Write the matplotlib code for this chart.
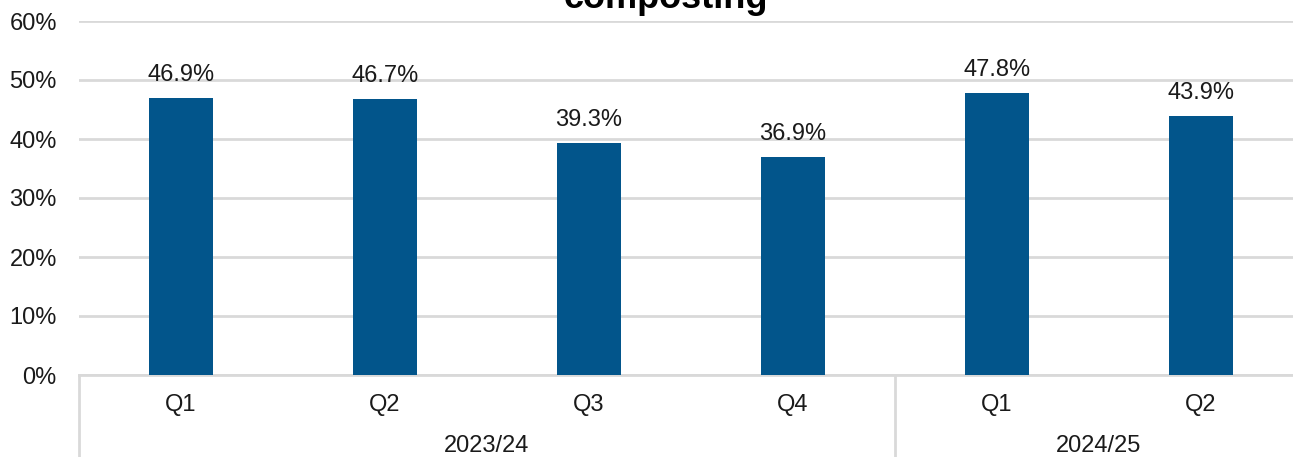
"""Quarterly composting rate bar chart with a two-level category axis."""

import matplotlib

matplotlib.use("Agg")
import matplotlib.pyplot as plt  # noqa: E402
from matplotlib.lines import Line2D  # noqa: E402
from matplotlib.transforms import blended_transform_factory  # noqa: E402

quarters = ["Q1", "Q2", "Q3", "Q4", "Q1", "Q2"]
rates = [46.9, 46.7, 39.3, 36.9, 47.8, 43.9]
years = ["2023/24", "2024/25"]
year_spans = [(0, 3), (4, 5)]  # first and last quarter index of each year

BAR_COLOR = "#02558B"
GRID_COLOR = "#D9D9D9"
W, H = 1293, 457

plt.rcParams["font.family"] = ["Liberation Sans", "DejaVu Sans"]

fig = plt.figure(figsize=(W / 100, H / 100), dpi=100)
# plot area in pixels: left 79, right 1303 (runs past the edge), top 21, bottom 375
ax = fig.add_axes([79 / W, (H - 375) / H, 1224 / W, (375 - 21) / H])

xs = list(range(len(rates)))
bars = ax.bar(xs, rates, width=0.314, color=BAR_COLOR, zorder=3)
for x, v in zip(xs, rates):
    ax.annotate(f"{v:.1f}%", (x, v), xytext=(0, 12), textcoords="offset pixels",
                ha="center", va="bottom", fontsize=17, color="#1a1a1a")

ax.set_xlim(-0.5, len(rates) - 0.5)
ax.set_ylim(0, 60)
ax.set_yticks(range(0, 61, 10))
ax.set_yticklabels([f"{t}%" for t in range(0, 61, 10)], fontsize=17, color="#1a1a1a")
ax.tick_params(axis="y", length=0, pad=16)
ax.tick_params(axis="x", length=0, labelbottom=False)
ax.yaxis.grid(True, color=GRID_COLOR, linewidth=2, zorder=0)
for side in ("left", "right", "top"):
    ax.spines[side].set_visible(False)
ax.spines["bottom"].set_color(GRID_COLOR)
ax.spines["bottom"].set_linewidth(2)

# two-level category labels below the axis
tr = blended_transform_factory(ax.transData, fig.transFigure)
for x, q in zip(xs, quarters):
    ax.text(x, 1 - 405 / H, q, transform=tr, ha="center", va="center",
            fontsize=17, color="#1a1a1a")
for name, (a, b) in zip(years, year_spans):
    ax.text((a + b) / 2, 1 - 446 / H, name, transform=tr, ha="center",
            va="center", fontsize=17, color="#1a1a1a")
for xb in (-0.5, 3.5, 5.5):
    fig.add_artist(Line2D([xb, xb], [0, 1 - 375 / H], transform=tr,
                          color=GRID_COLOR, linewidth=2, clip_on=False))

fig.text(666 / W, 1 - 8 / H, "composting", ha="center", va="baseline",
         fontsize=26, fontweight="bold", color="black")

fig.savefig("out.png", dpi=100)
